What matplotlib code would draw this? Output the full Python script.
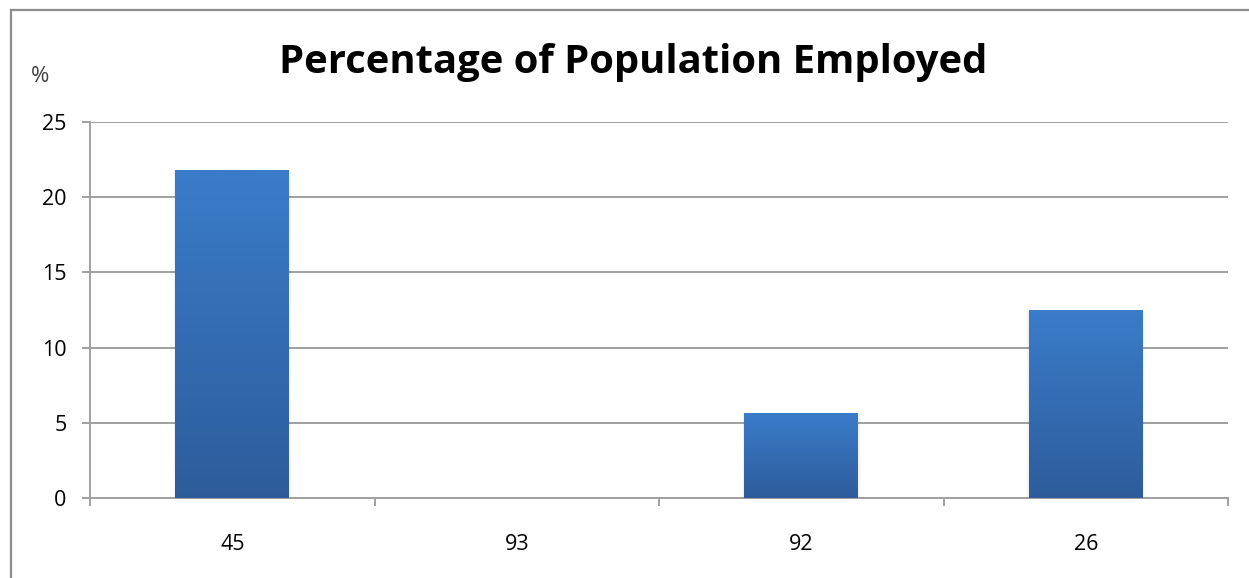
import matplotlib
matplotlib.use('Agg')
import matplotlib.pyplot as plt
import numpy as np
from matplotlib.colors import LinearSegmentedColormap
from matplotlib.lines import Line2D

# data
categories = ['45', '93', '92', '26']
employed_pct = [21.75, 0.0, 5.65, 12.5]
y_ticks = [0, 5, 10, 15, 20, 25]

GRID = '#a0a0a0'
bar_cmap = LinearSegmentedColormap.from_list('xlbar', ['#2e5c9b', '#3a7cca'])

plt.rcParams['font.family'] = ['Open Sans', 'DejaVu Sans']

fig = plt.figure(figsize=(12.49, 5.78), dpi=100)
ax = fig.add_axes([0.0721, 0.1384, 0.9111, 0.6505])

x = np.arange(len(categories))
bars = ax.bar(x, employed_pct, width=0.4, color='none', zorder=3)

# vertical gradient fill, like the excel bars
grad = np.linspace(0, 1, 256).reshape(-1, 1)
for b in bars:
    h = b.get_height()
    if h <= 0:
        continue
    x0 = b.get_x()
    w = b.get_width()
    # faint soft shadow around the bar
    ax.bar(x0 + w / 2, h + 0.1, width=w + 0.01, bottom=-0.15,
           color='#000000', alpha=0.05, zorder=2, linewidth=0)
    ax.imshow(grad, extent=[x0, x0 + w, 0, h], origin='lower',
              cmap=bar_cmap, aspect='auto', zorder=3)

ax.set_xlim(-0.5, len(categories) - 0.5)
ax.set_ylim(0, 25)
ax.set_yticks(y_ticks)
ax.set_xticks(x)
ax.set_xticklabels(categories)
ax.set_xticks(np.arange(-0.5, len(categories), 1.0), minor=True)

ax.yaxis.grid(True, color=GRID, linewidth=1.4, zorder=1)
ax.set_axisbelow(True)
for s in ['top', 'right']:
    ax.spines[s].set_visible(False)
for s in ['left', 'bottom']:
    ax.spines[s].set_color(GRID)
    ax.spines[s].set_linewidth(1.4)

ax.tick_params(axis='y', length=6, width=1.4, color=GRID, labelsize=15.5, pad=11)
ax.tick_params(axis='x', which='major', length=0, labelsize=15.5, pad=26)
ax.tick_params(axis='x', which='minor', length=6, width=1.4, color=GRID)

fig.text(0.507, 0.892, 'Percentage of Population Employed', ha='center', va='center',
         fontsize=28.8, fontweight='bold', color='black')
fig.text(0.032, 0.868, '%', ha='center', va='center', fontsize=16, color='#404040')

# outer chart frame (left and top edges visible)
fig.add_artist(Line2D([0.0085, 0.0085], [0.0, 0.983], transform=fig.transFigure,
                      color='#8c8c8c', linewidth=1.6))
fig.add_artist(Line2D([0.0085, 1.0], [0.983, 0.983], transform=fig.transFigure,
                      color='#8c8c8c', linewidth=1.6))

fig.savefig('out.png', dpi=100)
